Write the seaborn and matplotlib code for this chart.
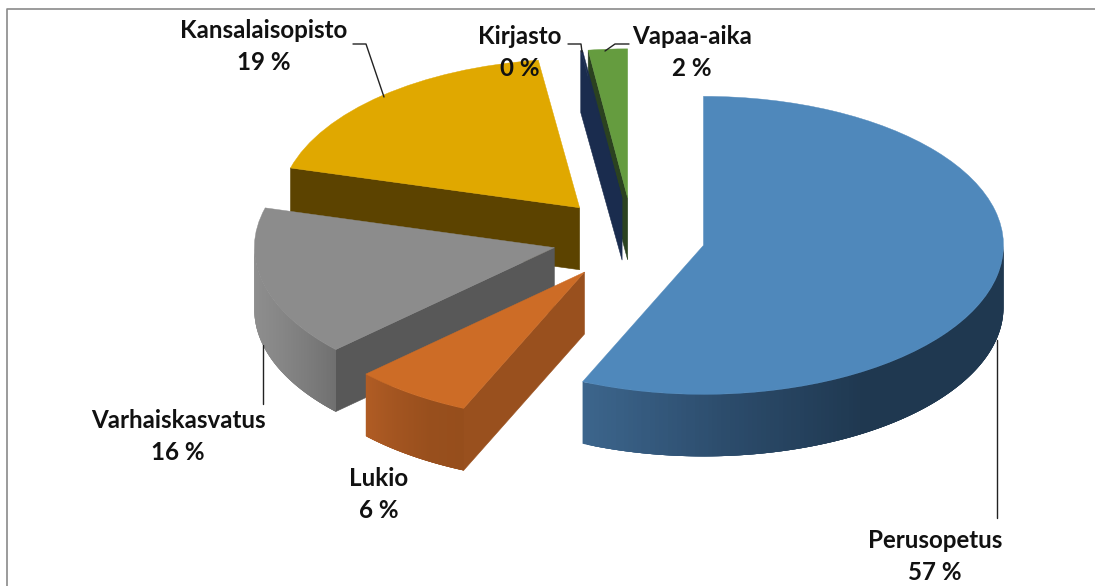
import numpy as np
import matplotlib
matplotlib.use("Agg")
import matplotlib.pyplot as plt
from matplotlib.collections import PolyCollection
from matplotlib.colors import LinearSegmentedColormap
from matplotlib.patches import Polygon
from matplotlib.transforms import Affine2D
import seaborn as sns

categories = ["Perusopetus", "Lukio", "Varhaiskasvatus", "Kansalaisopisto", "Kirjasto", "Vapaa-aika"]
shares = [56.6, 6.4, 16.3, 18.5, 0.1, 2.1]
shown_percent = [57, 6, 16, 19, 0, 2]
explode = [0.24, 0.28, 0.27, 0.27, 0.27, 0.27]
top_colors = ["#4f88bb", "#cd6c26", "#8c8c8c", "#e0a800", "#1a2c4e", "#659c3f"]
face_colors = ["#1f3850", "#99501e", "#585858", "#5c4300", "#1a2c4e", "#2b4220"]
wall_stops = [
    ["#3c658c", "#2c4c6c", "#1f3850", "#1f3850"],
    ["#b05c24", "#a25420", "#984f1d", "#964e1c"],
    ["#8e8e8e", "#868686", "#7c7c7c", "#707070"],
    ["#5c4300"] * 2, ["#1a2c4e"] * 2, ["#2b4220"] * 2,
]
draw_order = [5, 4, 3, 2, 1, 0]

W, H = 1095, 586
CX, CY, RX, RY, DEPTH = 633.0, 238.0, 300.0, 149.0, 62.0

sns.set_theme(style="white")
plt.rcParams["font.family"] = ["Lato", "DejaVu Sans"]

fig = plt.figure(figsize=(W / 100, H / 100), dpi=100, facecolor="white")
ax = fig.add_axes([0, 0, 1, 1])
wedges, _ = ax.pie(shares, explode=explode, colors=top_colors, startangle=90,
                   counterclock=False, radius=1.0, normalize=True)
ax.set_aspect("auto")
ax.set_xlim(-CX / RX, (W - CX) / RX)
ax.set_ylim(-(H - CY) / RY, CY / RY)
ax.axis("off")
depth = DEPTH / RY
px = Affine2D().scale(1, -1).translate(0, H)

for i in draw_order:
    w = wedges[i]
    cx, cy = w.center
    r = w.r
    t1, t2 = w.theta1, w.theta2
    z = 10 + 3 * draw_order.index(i)
    # straight cut faces that look towards the viewer
    for ang, normal in ((t1, t1 - 90), (t2, t2 + 90)):
        if np.sin(np.radians(normal)) < -0.02:
            a = np.radians(ang)
            ex, ey = cx + r * np.cos(a), cy + r * np.sin(a)
            ax.add_patch(Polygon([(cx, cy), (ex, ey), (ex, ey - depth), (cx, cy - depth)],
                                 closed=True, fc=face_colors[i], ec=face_colors[i], lw=0.4, zorder=z))
    # curved outer wall, shaded left to right; strips overlap so no seams show
    a = np.radians(np.linspace(t1, t2, 240))
    a = a[np.sin(a) <= 0]
    if len(a) > 1:
        cmap = LinearSegmentedColormap.from_list("w", wall_stops[i])
        xs, ys = cx + r * np.cos(a), cy + r * np.sin(a)
        rng = xs.max() - xs.min()
        n = len(xs)
        quads = []
        for k in range(n - 1):
            e = np.arange(k, min(k + 5, n))
            top = list(zip(xs[e], ys[e]))
            bot = list(zip(xs[e][::-1], ys[e][::-1] - depth))
            quads.append(top + bot)
        cols = [cmap((xs[k] - xs.min()) / rng) for k in range(n - 1)]
        if xs[0] > xs[-1]:
            quads, cols = quads[::-1], cols[::-1]
        ax.add_collection(PolyCollection(quads, facecolors=cols, edgecolors="none", linewidths=0, zorder=z + 1))
    w.set_zorder(z + 2)
    w.set_edgecolor(top_colors[i])
    w.set_linewidth(0.3)

# chart frame
ax.plot([7, 7, 1095], [586, 9, 9], transform=px, color="#8a8a8a", lw=1.2, zorder=1, clip_on=False)

label_centres = {
    "Perusopetus": (935, 541), "Lukio": (379, 478), "Varhaiskasvatus": (178, 420),
    "Kansalaisopisto": (264, 30), "Kirjasto": (520, 37), "Vapaa-aika": (692, 36),
}
for name, pct in zip(categories, shown_percent):
    x, y = label_centres[name]
    for txt, yy in ((name, y), (f"{pct} %", y + 32)):
        ax.text(x, yy, txt, transform=px, ha="center", va="center", fontsize=17.4,
                fontweight="bold", color="#111111", zorder=40, clip_on=False)

leaders = [
    ([353, 366, 384], [44, 44, 97]),
    ([568, 581, 582], [44, 44, 52]),
    ([629, 615, 605], [44, 44, 51]),
    ([263, 263], [345, 404]),
    ([997, 997], [340, 518]),
]
for xs, ys in leaders:
    ax.plot(xs, ys, transform=px, color="#222222", lw=1.0, zorder=41, clip_on=False)

fig.savefig("out.png", dpi=100)
